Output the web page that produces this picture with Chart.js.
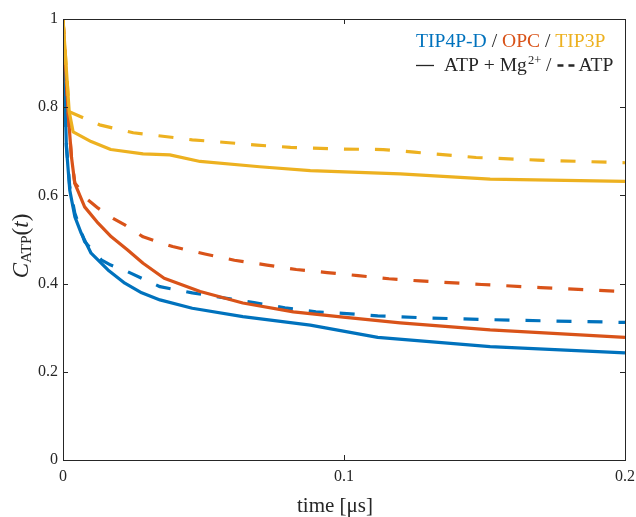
<!DOCTYPE html>
<html>
<head>
<meta charset="utf-8">
<script src="https://cdn.jsdelivr.net/npm/chart.js@4.4.1/dist/chart.umd.min.js"></script>
<style>
  html, body { margin:0; padding:0; background:#fff; }
  canvas { display:block; }
</style>
</head>
<body>
<canvas id="c" width="636" height="517"></canvas>
<script>
/* ---- DATA (time in µs, C_ATP(t)) ---- */
const xTickLabels = ["0", "0.1", "0.2"];
const yTickLabels = ["0", "0.2", "0.4", "0.6", "0.8", "1"];

// TIP4P-D, ATP + Mg2+ (solid) / ATP (dashed)
const tip4pdMgT = [0, 0.0012, 0.0024, 0.0042, 0.0065, 0.010, 0.016, 0.022, 0.028, 0.0345, 0.046, 0.064, 0.088, 0.112, 0.152, 0.2];
const tip4pdMgC = [1, 0.71, 0.612, 0.552, 0.514, 0.469, 0.431, 0.401, 0.379, 0.363, 0.344, 0.325, 0.306, 0.278, 0.257, 0.243];
const tip4pdT = [0, 0.0012, 0.0024, 0.0042, 0.0077, 0.0136, 0.017, 0.023, 0.0345, 0.046, 0.057, 0.068, 0.079, 0.09, 0.101, 0.112, 0.13, 0.16, 0.2];
const tip4pdC = [1, 0.715, 0.62, 0.56, 0.495, 0.454, 0.442, 0.427, 0.393, 0.379, 0.368, 0.357, 0.345, 0.336, 0.332, 0.327, 0.322, 0.317, 0.312];

// OPC
const opcMgT = [0, 0.0018, 0.003, 0.0042, 0.0077, 0.0125, 0.0172, 0.023, 0.0285, 0.036, 0.0488, 0.064, 0.082, 0.0997, 0.12, 0.152, 0.2];
const opcMgC = [1, 0.79, 0.688, 0.627, 0.574, 0.537, 0.506, 0.476, 0.446, 0.412, 0.382, 0.356, 0.336, 0.324, 0.311, 0.295, 0.278];
const opcT = [0, 0.0018, 0.003, 0.0042, 0.0089, 0.0125, 0.0178, 0.022, 0.0285, 0.039, 0.0505, 0.061, 0.0726, 0.083, 0.094, 0.105, 0.116, 0.127, 0.149, 0.17, 0.2];
const opcC = [1, 0.79, 0.688, 0.628, 0.59, 0.571, 0.548, 0.533, 0.506, 0.484, 0.467, 0.453, 0.442, 0.432, 0.425, 0.418, 0.411, 0.406, 0.398, 0.391, 0.382];

// TIP3P
const tip3pMgT = [0, 0.0022, 0.0036, 0.010, 0.017, 0.0285, 0.038, 0.0488, 0.070, 0.088, 0.12, 0.152, 0.2];
const tip3pMgC = [1, 0.79, 0.744, 0.722, 0.704, 0.694, 0.692, 0.677, 0.665, 0.656, 0.649, 0.637, 0.632];
const tip3pT = [0, 0.0022, 0.013, 0.025, 0.037, 0.046, 0.058, 0.069, 0.081, 0.1, 0.114, 0.125, 0.147, 0.169, 0.2];
const tip3pC = [1, 0.79, 0.76, 0.742, 0.733, 0.726, 0.72, 0.714, 0.709, 0.705, 0.704, 0.698, 0.686, 0.68, 0.674];

const BLUE = "#0072BD", RED = "#D95319", YELLOW = "#EDB120", INK = "#262626";
const SERIF = '"Liberation Serif", "DejaVu Serif", serif';

function pts(t, c){ return t.map((x,i)=>({x, y:c[i]})); }
function line(label, t, c, color, dashed){
  return {
    label, data: pts(t, c), borderColor: color, backgroundColor: color,
    borderWidth: 3.2, pointRadius: 0, tension: 0, fill: false,
    borderDash: dashed ? [15, 16] : [], borderCapStyle: "butt", borderJoinStyle: "round"
  };
}

/* box, inward ticks on all four sides, legend text, axis titles */
const frame = {
  id: "frame",
  afterDatasetsDraw(chart){
    const {ctx, chartArea:a, scales:{x, y}} = chart;
    ctx.save();
    ctx.strokeStyle = INK; ctx.lineWidth = 1;
    ctx.strokeRect(Math.round(a.left)+0.5, Math.round(a.top)+0.5, Math.round(a.right-a.left), Math.round(a.bottom-a.top));
    const L = 5;
    ctx.beginPath();
    x.ticks.forEach(tk=>{
      const px = Math.round(x.getPixelForValue(tk.value))+0.5;
      ctx.moveTo(px, a.bottom); ctx.lineTo(px, a.bottom-L);
      ctx.moveTo(px, a.top); ctx.lineTo(px, a.top+L);
    });
    y.ticks.forEach(tk=>{
      const py = Math.round(y.getPixelForValue(tk.value))+0.5;
      ctx.moveTo(a.left, py); ctx.lineTo(a.left+L, py);
      ctx.moveTo(a.right, py); ctx.lineTo(a.right-L, py);
    });
    ctx.stroke();
    ctx.restore();
  },
  afterDraw(chart){
    const {ctx} = chart;
    ctx.save();
    ctx.textBaseline = "alphabetic";
    const F = "19.6px " + SERIF;

    // legend, line 1
    let lx = 416, ly = 47;
    ctx.font = F;
    [["TIP4P-D", BLUE], [" / ", INK], ["OPC", RED], [" / ", INK], ["TIP3P", YELLOW]].forEach(([s, col])=>{
      ctx.fillStyle = col; ctx.fillText(s, lx, ly); lx += ctx.measureText(s).width;
    });

    // legend, line 2
    lx = 416; ly = 71;
    ctx.fillStyle = INK; ctx.strokeStyle = INK;
    ctx.lineWidth = 1.3;
    ctx.beginPath(); ctx.moveTo(lx, ly-5.5); ctx.lineTo(lx+18, ly-5.5); ctx.stroke();
    lx = 444;
    ctx.font = F;
    let s = "ATP + Mg";
    ctx.fillText(s, lx, ly); lx += ctx.measureText(s).width + 1;
    ctx.font = "12.5px " + SERIF;
    s = "2+";
    ctx.fillText(s, lx, ly-7.5); lx += ctx.measureText(s).width;
    ctx.font = F;
    s = " / ";
    ctx.fillText(s, lx, ly); lx += ctx.measureText(s).width;
    ctx.lineWidth = 2.6;
    ctx.beginPath();
    ctx.moveTo(lx+1, ly-5.5); ctx.lineTo(lx+7, ly-5.5);
    ctx.moveTo(lx+12, ly-5.5); ctx.lineTo(lx+18, ly-5.5);
    ctx.stroke();
    lx += 22;
    ctx.fillText("ATP", lx, ly);

    // x-axis title
    ctx.font = "21px " + SERIF;
    ctx.textAlign = "center";
    ctx.fillText("time [\u03bcs]", 335, 512);

    // y-axis title, rotated
    ctx.translate(28, 246);
    ctx.rotate(-Math.PI/2);
    const parts = [["C", "italic 23px " + SERIF, 0], ["ATP", "15.5px " + SERIF, 3], ["(", "23px " + SERIF, 0], ["t", "italic 23px " + SERIF, 0], [")", "23px " + SERIF, 0]];
    let w = 0;
    parts.forEach(([t, f])=>{ ctx.font = f; w += ctx.measureText(t).width; });
    ctx.textAlign = "left";
    let px = -w/2;
    parts.forEach(([t, f, dy])=>{ ctx.font = f; ctx.fillText(t, px, dy); px += ctx.measureText(t).width; });
    ctx.restore();
  }
};

new Chart(document.getElementById("c"), {
  type: "line",
  data: {
    datasets: [
      line("TIP3P ATP+Mg", tip3pMgT, tip3pMgC, YELLOW, false),
      line("TIP3P ATP", tip3pT, tip3pC, YELLOW, true),
      line("OPC ATP+Mg", opcMgT, opcMgC, RED, false),
      line("OPC ATP", opcT, opcC, RED, true),
      line("TIP4P-D ATP", tip4pdT, tip4pdC, BLUE, true),
      line("TIP4P-D ATP+Mg", tip4pdMgT, tip4pdMgC, BLUE, false),
    ]
  },
  options: {
    responsive: false,
    animation: false,
    layout: { padding: { left: 0, right: 11, top: 19, bottom: 0 } },
    plugins: { legend: { display: false }, tooltip: { enabled: false } },
    scales: {
      x: {
        type: "linear", min: 0, max: 0.2,
        grid: { display: false, drawTicks: false },
        border: { display: false },
        ticks: {
          stepSize: 0.1, padding: 7, color: INK, maxRotation: 0,
          font: { family: SERIF, size: 16 },
          callback: (v, i) => xTickLabels[i]
        },
        afterFit: s => { s.height = 57; s.paddingLeft = 0; s.paddingRight = 0; }
      },
      y: {
        min: 0, max: 1,
        grid: { display: false, drawTicks: false },
        border: { display: false },
        ticks: {
          stepSize: 0.2, padding: 5, color: INK,
          font: { family: SERIF, size: 16 },
          callback: (v, i) => yTickLabels[i]
        },
        afterFit: s => { s.width = 63; s.paddingTop = 0; s.paddingBottom = 0; }
      }
    }
  },
  plugins: [frame]
});
</script>
</body>
</html>
